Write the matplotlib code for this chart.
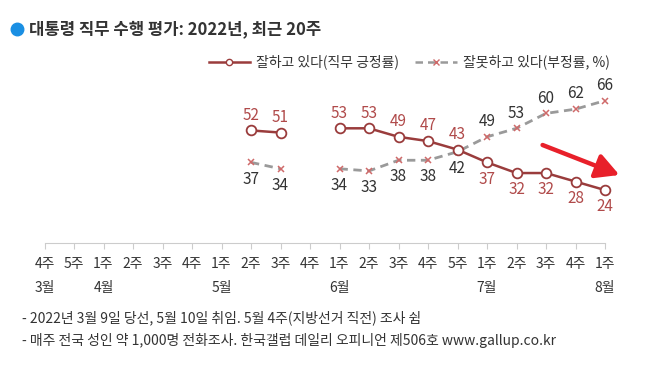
import numpy as np
import matplotlib
matplotlib.use("Agg")
import matplotlib.pyplot as plt
from matplotlib.lines import Line2D

plt.rcParams["font.family"] = ["Noto Sans CJK KR", "DejaVu Sans"]

# ── data ─────────────────────────────────────────────────────────────────────
weeks = ["4주", "5주", "1주", "2주", "3주", "4주", "1주", "2주", "3주", "4주",
         "1주", "2주", "3주", "4주", "5주", "1주", "2주", "3주", "4주", "1주"]
months = ["3월", "", "4월", "", "", "", "5월", "", "", "",
          "6월", "", "", "", "", "7월", "", "", "", "8월"]
positive = [np.nan] * 7 + [52, 51, np.nan, 53, 53, 49, 47, 43, 37, 32, 32, 28, 24]
negative = [np.nan] * 7 + [37, 34, np.nan, 34, 33, 38, 38, 42, 49, 53, 60, 62, 66]

title = "대통령 직무 수행 평가: 2022년, 최근 20주"
pos_label = "잘하고 있다(직무 긍정률)"
neg_label = "잘못하고 있다(부정률, %)"
notes = ["- 2022년 3월 9일 당선, 5월 10일 취임. 5월 4주(지방선거 직전) 조사 쉼",
         "- 매주 전국 성인 약 1,000명 전화조사. 한국갤럽 데일리 오피니언 제506호 www.gallup.co.kr"]

POS_LINE = "#9a3c3c"
POS_TEXT = "#b04a4a"
NEG_LINE = "#9a9a9a"
NEG_MARK = "#cf6a6a"
W, H = 651, 366

fig = plt.figure(figsize=(W / 100, H / 100), dpi=100)
fig.patch.set_facecolor("white")

# axes: bottom spine at y=243px, x=0 at 44.5px, x=19 at 605px
bottom_px, top_px = 243, 90
ax = fig.add_axes([44.5 / W, (H - bottom_px) / H, 560.5 / W, (bottom_px - top_px) / H])
ax.set_xlim(0, 19)
ax.set_ylim((241.2 - bottom_px) / 2.13, (241.2 - top_px) / 2.13)
for s in ["top", "right", "left"]:
    ax.spines[s].set_visible(False)
ax.spines["bottom"].set_color("#cccccc")
ax.set_yticks([])

x = np.arange(len(weeks))
ax.set_xticks(x)
ax.set_xticklabels([f"{w}\n{m}" for w, m in zip(weeks, months)],
                   fontsize=10, color="#333333", linespacing=1.95, va="top")
ax.tick_params(axis="x", length=4, color="#cccccc", pad=6)

ax.plot(x, negative, ls=(0, (3, 2)), color=NEG_LINE, lw=2,
        marker="x", ms=5, mec=NEG_MARK, mew=1.1, clip_on=False)
ax.plot(x, positive, color=POS_LINE, lw=1.8,
        marker="o", ms=7, mfc="white", mec=POS_LINE, mew=1.3, clip_on=False, zorder=3)

for i, (p, n) in enumerate(zip(positive, negative)):
    if np.isnan(p):
        continue
    p_above = i <= 14
    ax.annotate(f"{p:.0f}", (i, p), xytext=(0, 11 if p_above else -12),
                textcoords="offset points", ha="center",
                va="center", fontsize=11, color=POS_TEXT)
    ax.annotate(f"{n:.0f}", (i, n), xytext=(0, -12 if p_above else 11),
                textcoords="offset points", ha="center",
                va="center", fontsize=11, color="#333333")

# legend
handles = [Line2D([], [], color=POS_LINE, lw=1.8, marker="o", ms=4.5,
                  mfc="white", mec=POS_LINE),
           Line2D([], [], color=NEG_LINE, lw=1.8, ls=(0, (3, 2)), marker="x",
                  ms=4.5, mec=NEG_MARK)]
fig.legend(handles, [pos_label, neg_label], ncol=2, frameon=False,
           loc="center left", bbox_to_anchor=(196 / W, (H - 62) / H),
           fontsize=10, handlelength=3.0, handletextpad=0.4, columnspacing=1.2,
           labelcolor="#333333")

# title
fig.add_artist(Line2D([17 / W], [(H - 29) / H], transform=fig.transFigure,
                      marker="o", ms=9, color="#1a8fe3", ls="none"))
fig.text(29 / W, (H - 29) / H, title, fontsize=12, fontweight="bold",
         color="#333333", va="center", ha="left")

# notes
fig.text(22 / W, (H - 318) / H, notes[0], fontsize=10, color="#333333", va="center")
fig.text(22 / W, (H - 340) / H, notes[1], fontsize=10, color="#333333", va="center")

# red arrow
ax.annotate("", xy=(622, H - 176), xycoords="figure pixels",
            xytext=(540, H - 144), textcoords="figure pixels",
            arrowprops=dict(arrowstyle="-|>,head_width=0.75,head_length=1.4",
                            color="#e8202a", lw=3.2))

fig.savefig("out.png", dpi=100)
